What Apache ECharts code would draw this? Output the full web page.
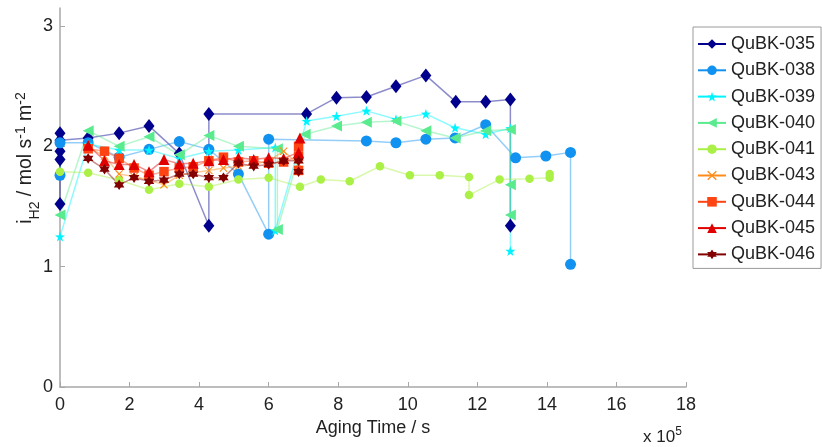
<!DOCTYPE html>
<html>
<head>
<meta charset="utf-8">
<script src="https://cdn.jsdelivr.net/npm/echarts@6/dist/echarts.min.js"></script>
<style>html,body{margin:0;padding:0;background:#fff}#c{width:822px;height:447px}</style>
</head>
<body>
<div id="c"></div>
<script>
// ---- data (aging time in 1e5 s, current density in mol s^-1 m^-2) ----
const seriesNames = ['QuBK-035','QuBK-038','QuBK-039','QuBK-040','QuBK-041','QuBK-043','QuBK-044','QuBK-045','QuBK-046'];
const xTicks = [0,2,4,6,8,10,12,14,16,18];
const yTicks = [0,1,2,3];

const t035 = [0,0,0,0,0,0.81,1.70,2.56,3.43,4.28,4.28,7.09,7.95,8.81,9.66,10.52,11.38,12.24,12.95,12.95];
const i035 = [1.52,1.89,1.96,2.11,2.05,2.07,2.11,2.17,1.94,1.34,2.27,2.27,2.405,2.41,2.50,2.59,2.37,2.37,2.39,1.34];

const t038 = [0,0,0.81,1.70,2.56,3.43,4.28,5.13,6.0,6.0,8.81,9.66,10.52,11.36,12.24,13.1,13.97,14.68,14.68];
const i038 = [1.76,2.03,2.03,1.91,1.975,2.04,1.975,1.77,1.27,2.06,2.045,2.03,2.06,2.07,2.18,1.905,1.92,1.95,1.02];

const t039 = [0,0.81,1.70,2.56,3.43,4.28,5.13,6.19,6.19,7.09,7.95,8.81,9.66,10.52,11.36,12.24,12.95,12.95];
const i039 = [1.25,2.02,1.97,1.97,1.90,1.96,1.97,1.99,1.30,2.21,2.25,2.295,2.225,2.27,2.155,2.10,2.15,1.13];

const t040 = [0,0.81,1.70,2.56,3.43,4.28,5.13,6.25,6.25,7.05,7.95,8.81,9.66,10.52,11.36,12.24,12.95,12.95,12.95];
const i040 = [1.43,2.13,2.00,2.08,1.93,2.09,2.00,1.98,1.31,2.10,2.17,2.20,2.21,2.13,2.07,2.13,2.14,1.68,1.43];

const t041 = [0,0.81,1.70,2.56,3.43,4.28,5.13,6.0,6.9,7.5,8.33,9.2,10.06,10.92,11.76,11.76,12.64,13.5,14.08,14.08];
const i041 = [1.79,1.78,1.72,1.64,1.69,1.665,1.725,1.74,1.665,1.725,1.71,1.835,1.76,1.76,1.745,1.595,1.725,1.73,1.74,1.77];

const t043 = [0.81,1.28,1.70,2.13,2.56,2.99,3.43,3.83,4.28,4.70,5.13,5.57,6.0,6.43,6.86];
const i043 = [1.99,1.92,1.77,1.75,1.72,1.68,1.76,1.78,1.80,1.82,1.835,1.85,1.88,1.96,1.85];

const t044 = [0.81,1.28,1.70,2.13,2.56,2.99,3.43,3.83,4.28,4.70,5.13,5.57,6.0,6.43,6.86,6.86,6.86];
const i044 = [1.98,1.96,1.90,1.82,1.76,1.79,1.82,1.83,1.88,1.91,1.87,1.88,1.86,1.87,1.92,2.00,1.80];

const t045 = [0.81,1.28,1.70,2.13,2.56,2.99,3.43,3.83,4.28,4.70,5.13,5.57,6.0,6.43,6.86,6.9];
const i045 = [2.01,1.88,1.85,1.85,1.79,1.89,1.855,1.86,1.88,1.89,1.905,1.89,1.905,1.90,1.95,2.07];

const t046 = [0.81,1.28,1.70,2.13,2.56,2.99,3.43,3.83,4.28,4.70,5.13,5.57,6.0,6.43,6.86,6.86];
const i046 = [1.90,1.81,1.68,1.74,1.71,1.72,1.77,1.77,1.74,1.74,1.86,1.835,1.85,1.88,1.88,1.79];

// ---- styles ----
const times = [t035,t038,t039,t040,t041,t043,t044,t045,t046];
const currents = [i035,i038,i039,i040,i041,i043,i044,i045,i046];
const colors = ['#00008c','#1192f0','#00f4ff','#5aeb8f','#aaf046','#ff8c1a','#ff4414','#e00000','#820000'];
const STAR = 'path://M0,-10 L2.35,-3.24 L9.51,-3.09 L3.8,1.24 L5.88,8.09 L0,4 L-5.88,8.09 L-3.8,1.24 L-9.51,-3.09 L-2.35,-3.24 Z';
const XMARK = 'path://M1,0 L5,4 L9,0 L10,1 L6,5 L10,9 L9,10 L5,6 L1,10 L0,9 L4,5 L0,1 Z';
const LTRI = 'path://M0,5 L10,0 L10,10 Z';
const HEX = 'path://M5,0 L6.44,2.5 L9.33,2.5 L7.89,5 L9.33,7.5 L6.44,7.5 L5,10 L3.56,7.5 L0.67,7.5 L2.11,5 L0.67,2.5 L3.56,2.5 Z';
const symbols = ['diamond','circle',STAR,LTRI,'circle',XMARK,'rect','triangle',HEX];
const sizes = [[11,14],11,10,11,8.5,8,9.5,11,10.5];
const FONT = 'Liberation Sans';

const chart = echarts.init(document.getElementById('c'), null, {renderer:'canvas'});
chart.setOption({
  animation: false,
  backgroundColor: '#fff',
  textStyle: {fontFamily: FONT},
  grid: {left: 60, right: 136, top: 8, bottom: 60, containLabel: false},
  xAxis: {
    type: 'value', min: 0, max: 18, interval: 2,
    name: 'Aging Time / s', nameLocation: 'middle', nameGap: 29,
    nameTextStyle: {fontSize: 18, color: '#222', fontFamily: FONT},
    axisLine: {show: true, onZero: false, lineStyle: {color: '#a8a8a8', width: 1.5}},
    axisTick: {show: true, inside: true, length: 5, lineStyle: {color: '#a8a8a8'}, customValues: xTicks},
    axisLabel: {fontSize: 18, color: '#222', margin: 9, fontFamily: FONT, customValues: xTicks},
    splitLine: {show: false}
  },
  yAxis: {
    type: 'value', min: 0, max: 3.15,
    axisLine: {show: true, lineStyle: {color: '#a8a8a8', width: 1.5}},
    axisTick: {show: true, inside: true, length: 5, lineStyle: {color: '#a8a8a8'}, customValues: yTicks},
    axisLabel: {fontSize: 18, color: '#222', margin: 7, fontFamily: FONT, customValues: yTicks},
    splitLine: {show: false}
  },
  legend: {
    orient: 'vertical', left: 693, top: 27,
    padding: [8, 6, 5, 4], itemGap: 8.3, itemWidth: 28, itemHeight: 12,
    backgroundColor: '#fff', borderColor: '#9a9a9a', borderWidth: 1,
    textStyle: {fontSize: 18, color: '#222', lineHeight: 18, fontFamily: FONT},
    lineStyle: {opacity: 1, width: 2},
    data: seriesNames
  },
  graphic: [
    {
      type: 'text', x: 26, y: 158, rotation: Math.PI / 2,
      style: {
        text: 'i{sub|H2} / mol s{sup|-1} m{sup|-2}',
        align: 'center', verticalAlign: 'middle',
        fontSize: 19.5, fontFamily: FONT, fill: '#222', lineHeight: 24,
        rich: {
          sub: {fontSize: 14, fontFamily: FONT, verticalAlign: 'bottom', lineHeight: 14, padding: [0,0,-4,0]},
          sup: {fontSize: 14, fontFamily: FONT, verticalAlign: 'top', lineHeight: 14}
        }
      }
    },
    {
      type: 'text', x: 643, y: 437,
      style: {
        text: 'x 10{sup|5}', align: 'left', verticalAlign: 'middle',
        fontSize: 17, fontFamily: FONT, fill: '#222', lineHeight: 22,
        rich: {sup: {fontSize: 12, fontFamily: FONT, verticalAlign: 'top', lineHeight: 12}}
      }
    }
  ],
  series: seriesNames.map((n, k) => ({
    type: 'line', name: n,
    data: times[k].map((x, j) => [x, currents[k][j]]),
    symbol: symbols[k], symbolSize: sizes[k],
    color: colors[k],
    itemStyle: {color: colors[k], opacity: 1},
    lineStyle: {color: colors[k], width: 1.5, opacity: 0.45},
    emphasis: {disabled: true}
  }))
});
</script>
</body>
</html>
